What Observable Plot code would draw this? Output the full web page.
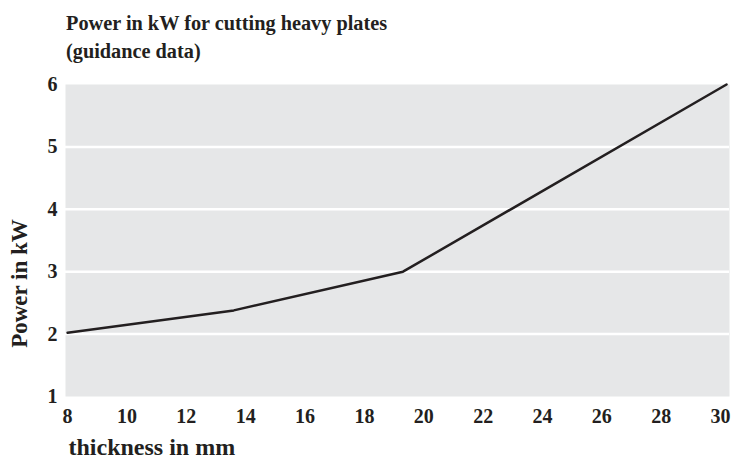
<!DOCTYPE html>
<html>
<head>
<meta charset="utf-8">
<script src="https://cdn.jsdelivr.net/npm/d3@7"></script>
<script src="https://cdn.jsdelivr.net/npm/@observablehq/plot@0.6"></script>
<style>
  html, body { margin: 0; padding: 0; background: #ffffff; }
  body { width: 735px; height: 460px; overflow: hidden; font-family: "Liberation Serif", "Times New Roman", serif; color: #231f20; }
  #title { font-weight: bold; font-size: 20.3px; line-height: 28px; padding: 9px 0 0 66px; height: 54px; white-space: nowrap; }
  #chart svg { overflow: visible; }
</style>
</head>
<body>
<div id="title">Power in kW for cutting heavy plates<br>(guidance data)</div>
<div id="chart"></div>
<script>
const thickness = [8, 13.6, 19.3, 30.2];
const power = [2.02, 2.38, 3.0, 6.0];
const xTicks = [8, 10, 12, 14, 16, 18, 20, 22, 24, 26, 28, 30];
const yTicks = [1, 2, 3, 4, 5, 6];
const gridValues = [2, 3, 4, 5];
const xTitle = "thickness in mm";
const yTitle = "Power in kW";

const data = thickness.map((t, i) => ({thickness: t, power: power[i]}));
const ink = "#231f20";
const fmt = d => String(d);

const chart = Plot.plot({
  width: 735,
  height: 397,
  marginLeft: 65,
  marginRight: 6,
  marginTop: 21,
  marginBottom: 64,
  style: {fontFamily: '"Liberation Serif", "Times New Roman", serif', fontSize: "20px", fontWeight: "bold", color: ink, background: "transparent", overflow: "visible"},
  x: {domain: [7.93, 30.3]},
  y: {domain: [1, 6]},
  marks: [
    Plot.frame({fill: "#e6e7e8", stroke: null}),
    Plot.ruleY(gridValues, {stroke: "#ffffff", strokeWidth: 2.5}),
    Plot.axisX({ticks: xTicks, tickFormat: fmt, tickSize: 0, tickPadding: 12, label: null, fontSize: 20, fill: ink}),
    Plot.axisY({ticks: yTicks, tickFormat: fmt, tickSize: 0, tickPadding: 8, label: null, fontSize: 20, fill: ink}),
    Plot.text([xTitle], {frameAnchor: "bottom-left", text: d => d, textAnchor: "start", dx: 3, dy: 58, fontSize: 24, fontWeight: "bold", fill: ink}),
    Plot.text([yTitle], {frameAnchor: "left", text: d => d, textAnchor: "middle", rotate: -90, dx: -46, dy: 43, fontSize: 23, fontWeight: "bold", fill: ink}),
    Plot.line(data, {x: "thickness", y: "power", stroke: ink, strokeWidth: 2.5})
  ]
});
document.getElementById("chart").appendChild(chart);
</script>
</body>
</html>
